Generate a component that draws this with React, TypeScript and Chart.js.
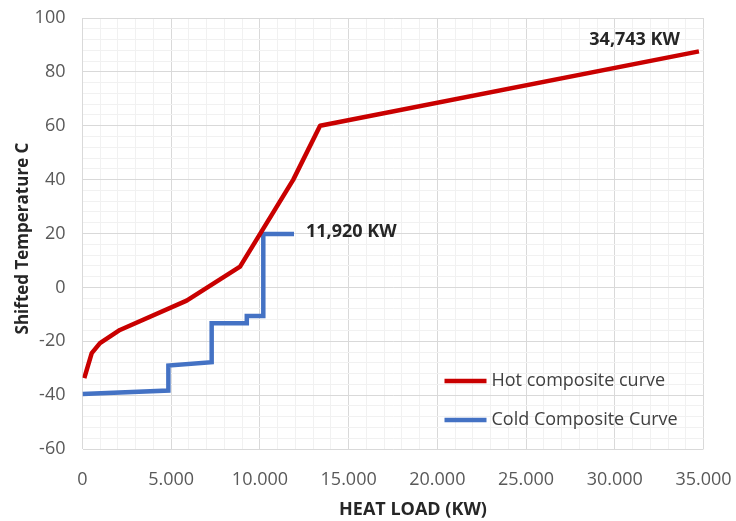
import React, { useEffect, useRef } from "react";
import { Chart, registerables } from "chart.js";

Chart.register(...registerables);

// ---- data ----
const hotLoad = [100, 520, 985, 2110, 5870, 8880, 11880, 13390, 34743];
const hotTemp = [-33.7, -24.4, -20.7, -15.8, -4.9, 7.7, 40, 60, 87.6];
const coldLoad = [0, 4840, 4840, 7280, 7280, 9260, 9260, 10190, 10190, 11920];
const coldTemp = [-39.6, -38.3, -29, -27.8, -13.3, -13.3, -10.6, -10.6, 19.8, 19.8];
const seriesNames = ["Hot composite curve", "Cold Composite Curve"];
const endLabels = ["34,743 KW", "11,920 KW"];
const xTitle = "HEAT LOAD (KW)";
const yTitle = "Shifted Temperature C";
const xMin = 0, xMax = 35000, xMajor = 5000, xMinor = 1000;
const yMin = -60, yMax = 100, yMajor = 20, yMinor = 4;

const FONT = "'Open Sans', 'Liberation Sans', sans-serif";
const HOT = "#c90000";
const COLD = "#4472c4";
const MAJOR_GRID = "#d9d9d9";
const MINOR_GRID = "#f1f1f1";

const fmtX = (v: number) =>
  v === 0 ? "0" : `${Math.floor(v / 1000)}.${String(v % 1000).padStart(3, "0")}`;

const overlayPlugin = {
  id: "overlay",
  afterDatasetsDraw(chart: any) {
    const { ctx, chartArea } = chart;
    ctx.save();
    // end labels
    ctx.font = `bold 18px ${FONT}`;
    ctx.fillStyle = "#262626";
    ctx.textBaseline = "middle";
    const hotMeta = chart.getDatasetMeta(0);
    const hp = hotMeta.data[hotMeta.data.length - 1];
    ctx.textAlign = "right";
    ctx.fillText(endLabels[0], hp.x - 19, hp.y - 12);
    const coldMeta = chart.getDatasetMeta(1);
    const cp = coldMeta.data[coldMeta.data.length - 1];
    ctx.textAlign = "left";
    ctx.fillText(endLabels[1], cp.x + 12, cp.y - 2);

    // legend inside plot
    const lx = chartArea.left + 362;
    const ly = [chartArea.top + 363, chartArea.top + 402];
    const colors = [HOT, COLD];
    ctx.font = `18px ${FONT}`;
    ctx.fillStyle = "#404040";
    ctx.textAlign = "left";
    for (let i = 0; i < 2; i++) {
      ctx.strokeStyle = colors[i];
      ctx.lineWidth = 4.5;
      ctx.beginPath();
      ctx.moveTo(lx, ly[i]);
      ctx.lineTo(lx + 42, ly[i]);
      ctx.stroke();
      ctx.fillText(seriesNames[i], lx + 47, ly[i]);
    }

    // axis titles
    ctx.font = `bold 18px ${FONT}`;
    ctx.fillStyle = "#262626";
    ctx.textAlign = "center";
    ctx.fillText(xTitle, (chartArea.left + chartArea.right) / 2 + 20, 510);
    ctx.font = `bold 17px ${FONT}`;
    ctx.translate(23, (chartArea.top + chartArea.bottom) / 2 + 5);
    ctx.rotate(-Math.PI / 2);
    ctx.fillText(yTitle, 0, 0);
    ctx.restore();
  },
};

export default function App() {
  const ref = useRef<HTMLCanvasElement>(null);
  useEffect(() => {
    if (!ref.current) return;
    const chart = new Chart(ref.current, {
      type: "scatter",
      data: {
        datasets: [
          {
            label: seriesNames[0],
            data: hotLoad.map((x, i) => ({ x, y: hotTemp[i] })),
            showLine: true,
            borderColor: HOT,
            backgroundColor: HOT,
            borderWidth: 4.5,
            pointRadius: 0,
            tension: 0,
            borderJoinStyle: "round",
          },
          {
            label: seriesNames[1],
            data: coldLoad.map((x, i) => ({ x, y: coldTemp[i] })),
            showLine: true,
            borderColor: COLD,
            backgroundColor: COLD,
            borderWidth: 4.5,
            pointRadius: 0,
            tension: 0,
            borderJoinStyle: "miter",
          },
        ],
      },
      options: {
        animation: false,
        responsive: true,
        maintainAspectRatio: false,
        layout: { padding: { top: 18, right: 32.5, left: 0, bottom: 0 } },
        plugins: { legend: { display: false }, tooltip: { enabled: false } },
        scales: {
          x: {
            type: "linear",
            min: xMin,
            max: xMax,
            afterFit: (s: any) => {
              s.height = 72;
              s.paddingLeft = 0;
              s.paddingRight = 0;
            },
            ticks: {
              stepSize: xMinor,
              autoSkip: false,
              maxRotation: 0,
              padding: 20,
              color: "#595959",
              font: { family: FONT, size: 18 },
              callback: (v: any) => (Number(v) % xMajor === 0 ? fmtX(Number(v)) : ""),
            },
            grid: {
              drawTicks: false,
              color: (c: any) => (c.tick && c.tick.value % xMajor === 0 ? MAJOR_GRID : MINOR_GRID),
            },
            border: { display: false },
          },
          y: {
            type: "linear",
            min: yMin,
            max: yMax,
            afterFit: (s: any) => {
              s.width = 82.5;
              s.paddingTop = 0;
              s.paddingBottom = 0;
            },
            ticks: {
              stepSize: yMinor,
              autoSkip: false,
              padding: 17,
              color: "#595959",
              font: { family: FONT, size: 18 },
              callback: (v: any) => (Number(v) % yMajor === 0 ? String(v) : ""),
            },
            grid: {
              drawTicks: false,
              color: (c: any) => (c.tick && c.tick.value % yMajor === 0 ? MAJOR_GRID : MINOR_GRID),
            },
            border: { display: false },
          },
        },
      },
      plugins: [overlayPlugin],
    });
    return () => chart.destroy();
  }, []);
  return (
    <div style={{ position: "fixed", left: 0, top: 0, width: 736, height: 521, background: "#fff" }}>
      <canvas ref={ref} />
    </div>
  );
}
